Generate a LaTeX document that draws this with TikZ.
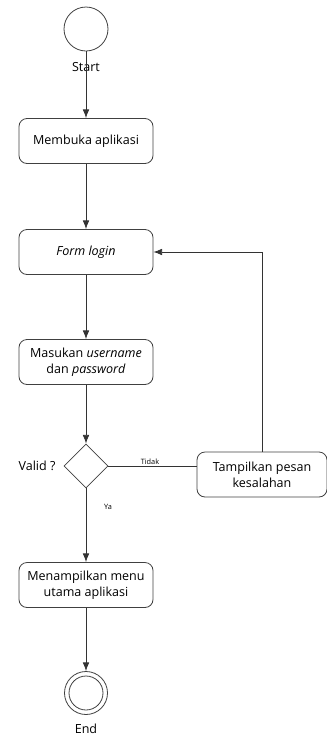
\documentclass[tikz,border=0pt]{standalone}
\usepackage{fontspec}
\setmainfont{Open Sans}
\usepackage{tikz}
\usetikzlibrary{arrows.meta}
\usetikzlibrary{shapes.geometric}
\usetikzlibrary{positioning}

\tikzset{
  activity/.style={rectangle, rounded corners=6pt, draw=black!75, line width=0.6pt,
    minimum width=100.5pt, minimum height=33.75pt, align=center, font=\fontsize{9.4}{12}\selectfont},
  flow/.style={-{Latex[length=6.5pt,width=5pt]}, draw=black!80, line width=0.6pt},
}

\begin{document}
\begin{tikzpicture}[x=0.75pt, y=-0.75pt]
\useasboundingbox (0,0) rectangle (327,736);
\node [circle, draw=black!75, line width=0.6pt, minimum size=33pt, inner sep=0pt] (start) at (86, 29) {};
\node [font=\fontsize{9.4}{11}\selectfont] (startlbl) at (86, 67) {Start};
\node [activity] (buka) at (86, 141) {Membuka aplikasi};
\node [activity] (form) at (86, 252) {\textit{Form login}};
\node [activity] (masuk) at (86, 362) {Masukan \textit{username}\\dan \textit{password}};
\node [diamond, draw=black!75, line width=0.6pt, minimum width=33pt, minimum height=33pt, inner sep=0pt] (valid) at (86, 466) {};
\node [font=\fontsize{9.4}{11}\selectfont] (validlbl) at (37, 466) {Valid ?};
\node [activity, minimum width=97.5pt] (pesan) at (262, 474.5) {Tampilkan pesan\\kesalahan};
\node [activity] (menu) at (86, 585) {Menampilkan menu\\utama aplikasi};
\node [circle, draw=black!75, line width=0.6pt, minimum size=32.25pt, inner sep=0pt] (end) at (86, 693) {};
\node [circle, draw=black!75, line width=0.6pt, minimum size=25.5pt, inner sep=0pt] (endin) at (86, 693) {};
\node [font=\fontsize{9.4}{11}\selectfont] (endlbl) at (86, 729) {End};
\node [font=\fontsize{5.5}{6}\selectfont] (tidak) at (150, 462) {Tidak};
\node [font=\fontsize{5.5}{6}\selectfont] (ya) at (108, 507) {Ya};

\draw [flow] (start) -- (buka);
\draw [flow] (buka) -- (form);
\draw [flow] (form) -- (masuk);
\draw [flow] (masuk) -- (valid);
\draw [flow] (valid) -- (menu);
\draw [flow] (menu) -- (end);
\draw [flow, -] (valid.east) -- (valid.east -| pesan.west);
\draw [flow] (pesan.north) |- (form.east);
\end{tikzpicture}
\end{document}
